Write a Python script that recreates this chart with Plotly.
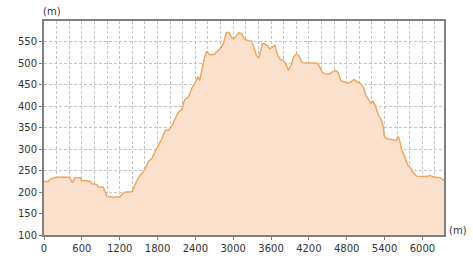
import plotly.graph_objects as go

distance_m = [0, 60, 100, 175, 300, 410, 450, 490, 570, 600, 730, 760, 840, 860, 940, 970, 995,
              1100, 1207, 1234, 1290, 1366, 1403, 1446, 1498, 1552, 1604, 1657, 1710, 1763, 1816,
              1870, 1922, 1975, 2028, 2081, 2134, 2187, 2229, 2293, 2346, 2400, 2440, 2470, 2500,
              2540, 2584, 2616, 2653, 2706, 2759, 2812, 2849, 2892, 2934, 2971, 3008, 3050, 3093,
              3130, 3183, 3236, 3290, 3327, 3369, 3406, 3433, 3465, 3502, 3539, 3581, 3624, 3661,
              3698, 3740, 3794, 3830, 3877, 3920, 3957, 4000, 4037, 4091, 4144, 4197, 4251, 4331,
              4357, 4411, 4464, 4517, 4571, 4624, 4667, 4704, 4757, 4811, 4864, 4917, 4971, 5024,
              5061, 5104, 5147, 5184, 5216, 5253, 5307, 5344, 5376, 5397, 5440, 5493, 5547, 5589,
              5611, 5632, 5664, 5696, 5733, 5771, 5813, 5856, 5909, 5973, 6080, 6123, 6160, 6213,
              6267, 6320, 6343]
elevation_m = [225, 224, 230, 234, 235, 234, 222, 233, 233, 227, 225, 219, 217, 212, 211, 200, 190,
               188, 189, 195, 200, 200, 202, 218, 233, 244, 253, 271, 278, 294, 309,
               324, 344, 344, 355, 373, 387, 392, 415, 421, 442, 455, 468, 460, 480,
               510, 528, 521, 519, 521, 529, 537, 548, 571, 571, 560, 556, 564, 571,
               568, 556, 552, 551, 537, 518, 512, 525, 545, 545, 541, 533, 537, 541,
               521, 510, 506, 500, 483, 495, 514, 521, 518, 502, 500, 500, 501, 500,
               495, 479, 474, 474, 479, 483, 477, 460, 456, 454, 456, 462, 456, 452,
               445, 425, 415, 406, 411, 401, 378, 369, 355, 329, 324, 322, 320, 320,
               329, 325, 303, 292, 277, 262, 256, 245, 237, 236, 236, 239, 236, 234,
               234, 230, 227]

x_ticks = [0, 600, 1200, 1800, 2400, 3000, 3600, 4200, 4800, 5400, 6000]
y_ticks = [100, 150, 200, 250, 300, 350, 400, 450, 500, 550]

fig = go.Figure()
fig.add_trace(go.Scatter(
    x=distance_m, y=elevation_m, mode="lines",
    line=dict(color="#f5a55f", width=1.5),
    fill="tozeroy", fillcolor="#fce2cd",
    hoverinfo="skip", showlegend=False,
))

font = dict(family="DejaVu Sans", size=10, color="#333333")
grid = dict(showgrid=True, gridcolor="#c4c4c4", griddash="3px,2px", gridwidth=1)

fig.update_layout(
    width=473, height=266,
    margin=dict(l=44, r=29, t=21, b=26),
    paper_bgcolor="white", plot_bgcolor="white",
    font=font,
    xaxis=dict(
        range=[0, 6343], tickmode="array", tickvals=x_ticks,
        ticktext=[str(v) for v in x_ticks],
        showline=True, mirror=True, linecolor="#808080", linewidth=2,
        ticks="outside", ticklen=3, tickcolor="#808080",
        zeroline=False,
        minor=dict(dtick=200, tick0=0, showgrid=True, gridcolor="#c4c4c4", griddash="3px,2px"),
        **grid,
    ),
    yaxis=dict(
        range=[100, 598], tickmode="array", tickvals=y_ticks,
        ticktext=[str(v) for v in y_ticks],
        showline=True, mirror=True, linecolor="#808080", linewidth=2,
        ticks="outside", ticklen=3, tickcolor="#808080",
        zeroline=False,
        **grid,
    ),
    annotations=[
        dict(text="(m)", xref="paper", yref="paper", x=0, y=1, xanchor="left",
             yanchor="bottom", xshift=-3, yshift=2, showarrow=False, font=font),
        dict(text="(m)", xref="paper", yref="paper", x=1, y=0, xanchor="left",
             yanchor="middle", xshift=3, yshift=5, showarrow=False, font=font),
    ],
)

fig.write_html("out.html")
